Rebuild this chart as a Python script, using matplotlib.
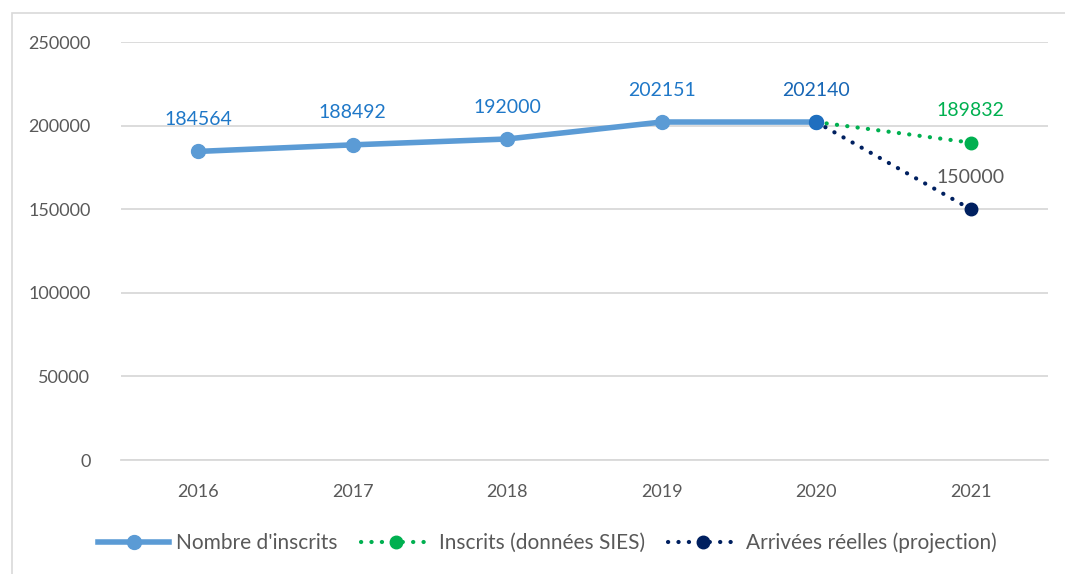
import matplotlib.pyplot as plt
from matplotlib.patches import Rectangle
from matplotlib.lines import Line2D

plt.rcParams['font.family'] = ['Lato', 'DejaVu Sans']

# données
annees = [2016, 2017, 2018, 2019, 2020, 2021]
inscrits = [184564, 188492, 192000, 202151, 202140]
sies = [202140, 189832]
projection = [202140, 150000]

c_bleu = '#5B9BD5'
c_label = '#1F78C8'
c_vert = '#00B050'
c_marine = '#002060'
c_gris = '#595959'

pointille = (0, (0.05, 2.45))

fig = plt.figure(figsize=(10.65, 5.74), dpi=100)
ax = fig.add_axes([0.1136, 0.1986, 0.8704, 0.7282])

x = list(range(len(annees)))

# séries pointillées (2020 -> 2021)
ax.plot(x[4:], sies, color=c_vert, lw=3, ls=pointille,
        dash_capstyle='round', marker='o', markersize=9, zorder=3)
ax.plot(x[4:], projection, color=c_marine, lw=3, ls=pointille,
        dash_capstyle='round', marker='o', markersize=9, zorder=3)
# série principale
ax.plot(x[:5], inscrits, color=c_bleu, lw=4, marker='o', markersize=10,
        zorder=4)
ax.plot(x[4], inscrits[4], 'o', color='#1F6FBF', markersize=10, zorder=5)

# étiquettes de données
off = 23
for xi, v in zip(x[:4], inscrits[:4]):
    ax.annotate(str(v), (xi, v), xytext=(0, off), textcoords='offset points',
                ha='center', va='center', fontsize=14, color=c_label)
ax.annotate(str(inscrits[4]), (x[4], inscrits[4]), xytext=(0, off),
            textcoords='offset points', ha='center', va='center',
            fontsize=14, color='#1766B5')
ax.annotate(str(sies[1]), (x[5], sies[1]), xytext=(0, off),
            textcoords='offset points', ha='center', va='center',
            fontsize=14, color=c_vert)
ax.annotate(str(projection[1]), (x[5], projection[1]), xytext=(0, off),
            textcoords='offset points', ha='center', va='center',
            fontsize=14, color=c_gris)

ax.set_xlim(-0.5, 5.5)
ax.set_ylim(0, 250000)
ax.set_yticks(range(0, 250001, 50000))
ax.set_xticks(x)
ax.set_xticklabels([str(a) for a in annees])
ax.tick_params(axis='both', length=0, labelsize=13, colors=c_gris)
ax.tick_params(axis='y', pad=22)
ax.tick_params(axis='x', pad=17)
ax.grid(axis='y', color='#D9D9D9', lw=1.3)
ax.set_axisbelow(True)
for s in ['top', 'right', 'left']:
    ax.spines[s].set_visible(False)
ax.spines['bottom'].set_color('#D9D9D9')
ax.spines['bottom'].set_linewidth(1.3)

# légende
handles = [
    Line2D([], [], color=c_bleu, lw=4, marker='o', markersize=10),
    Line2D([], [], color=c_vert, lw=3, ls=pointille,
           dash_capstyle='round', marker='o', markersize=9),
    Line2D([], [], color=c_marine, lw=3, ls=pointille,
           dash_capstyle='round', marker='o', markersize=9),
]
labels = ["Nombre d'inscrits", "Inscrits (données SIES)",
          "Arrivées réelles (projection)"]
fig.legend(handles, labels, loc='center', bbox_to_anchor=(0.514, 0.054),
           ncol=3, frameon=False, fontsize=15, handlelength=3.4,
           handletextpad=0.35, columnspacing=1.1, labelcolor=c_gris)

# cadre du graphique
fig.patches.append(Rectangle((12 / 1065, -0.01), 1.1, 1 - 13 / 574 + 0.01,
                             transform=fig.transFigure, fill=False,
                             edgecolor='#D9D9D9', lw=1.2))

fig.savefig('out.png', dpi=100)
